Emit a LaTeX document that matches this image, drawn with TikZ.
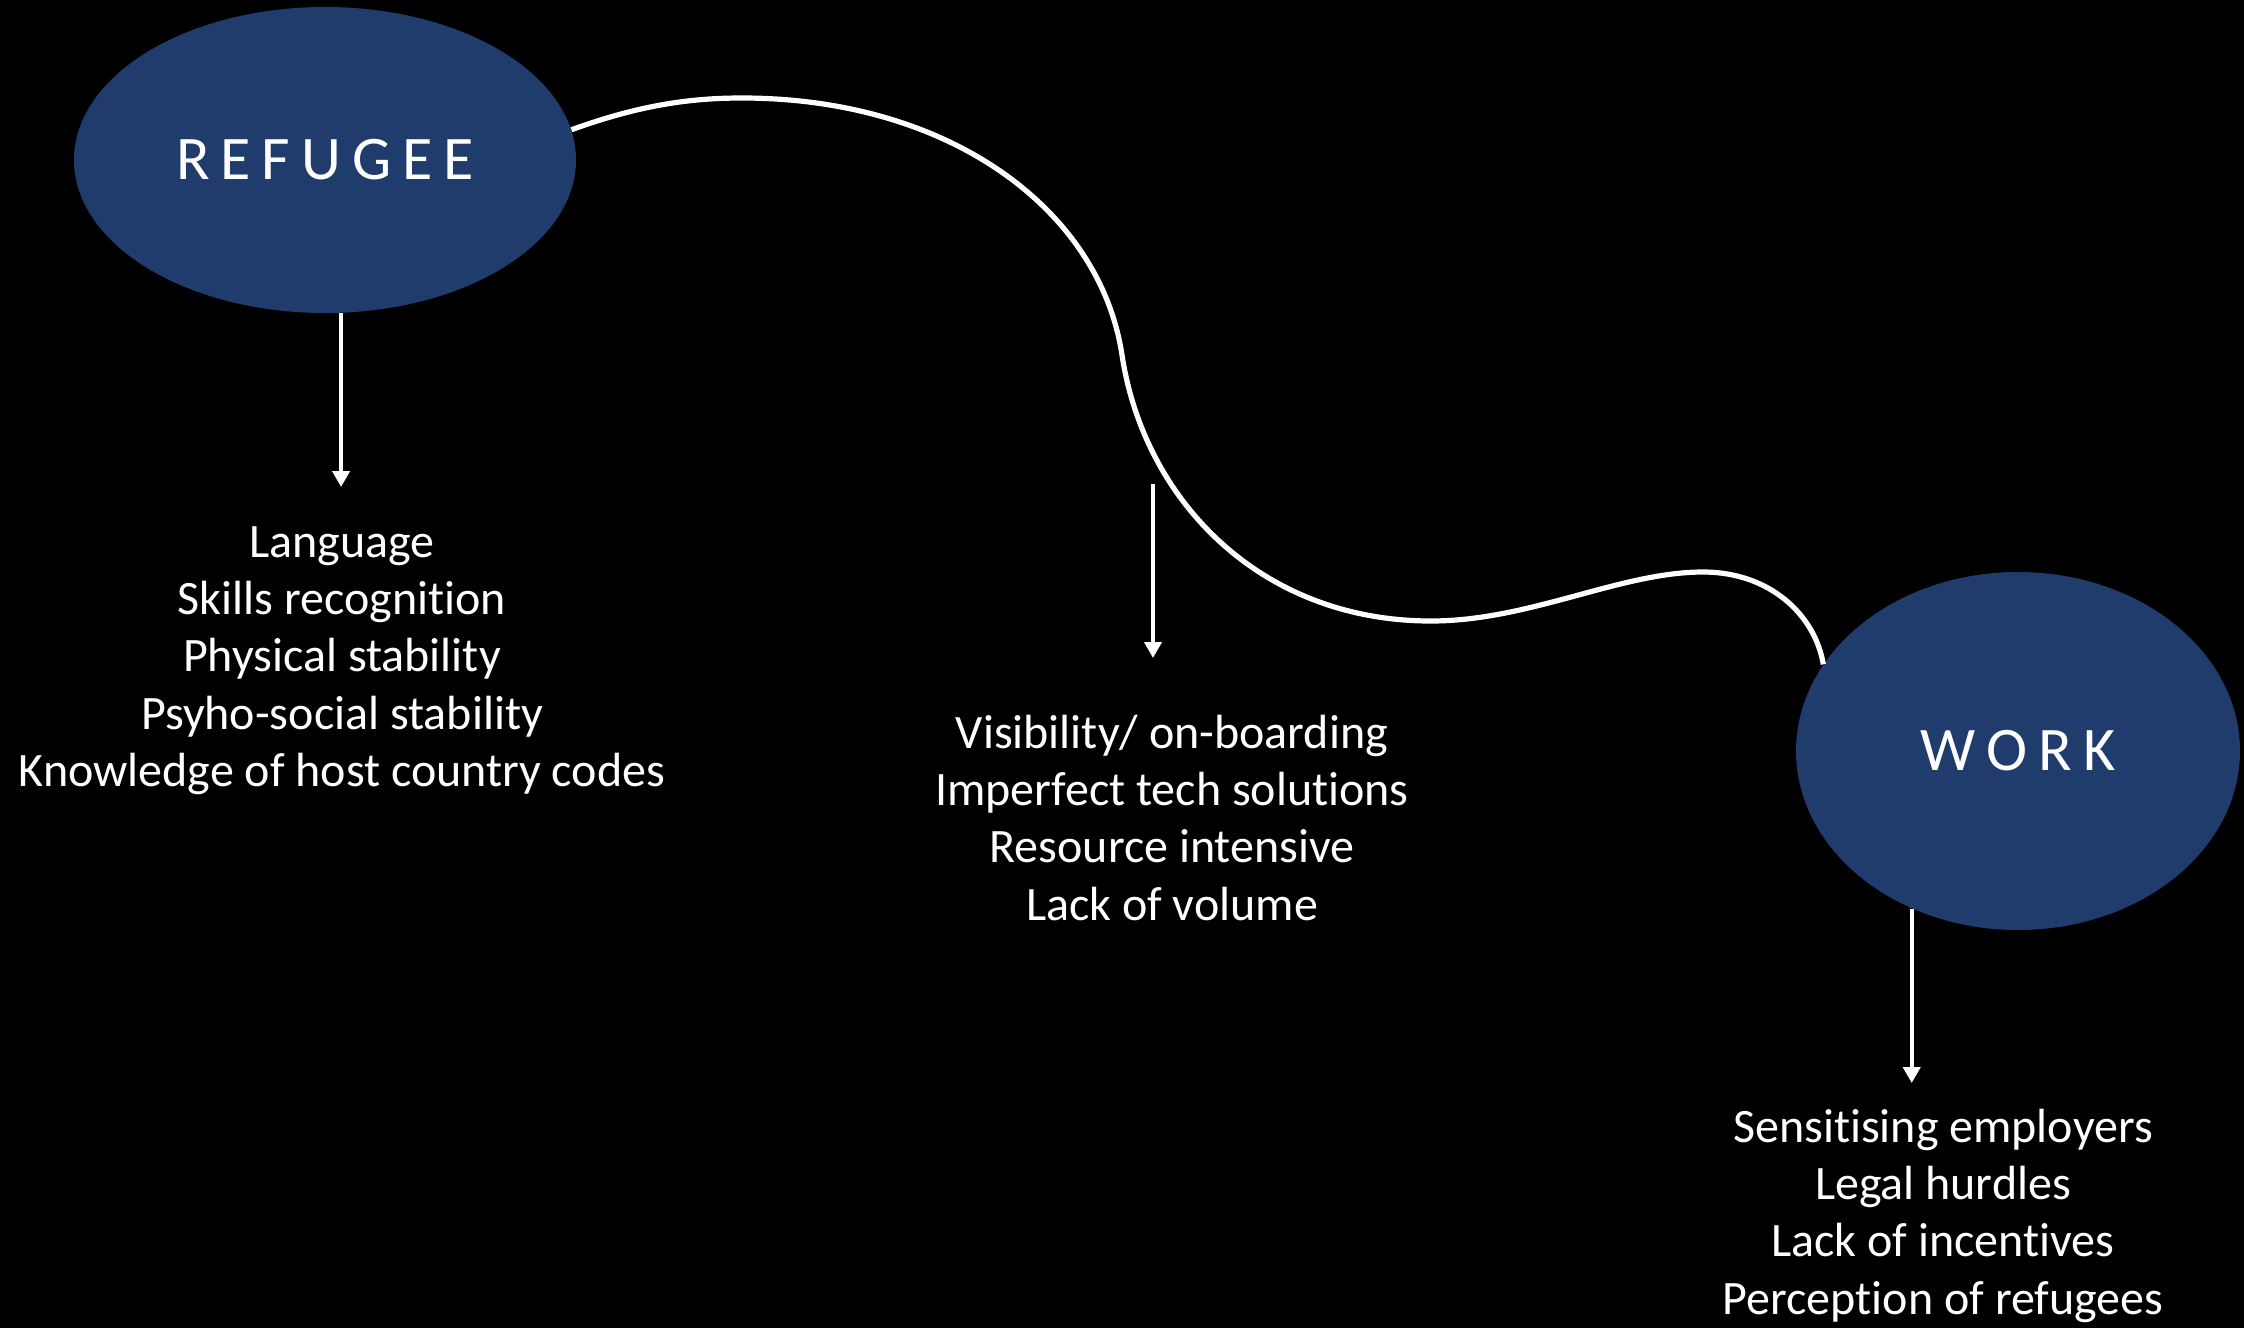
\documentclass[tikz,border=0pt]{standalone}
\usepackage{fontspec}
\setmainfont{Carlito}[Ligatures=NoCommon]
\usetikzlibrary{arrows.meta,shapes.geometric}
\definecolor{navy}{RGB}{31,60,108}
\newcommand\lsp{\kern5.5pt}
\begin{document}
\begin{tikzpicture}[x=0.5pt,y=-0.5pt,
  bubble/.style={ellipse, fill=navy, inner sep=0pt, text=white,
    font=\fontsize{31}{37}\selectfont},
  listtext/.style={anchor=north, inner sep=0pt, align=center, text=white,
    font=\fontsize{24}{28.6}\selectfont},
  arr/.style={white, line width=2pt, -{Triangle[width=8.5pt,length=8pt]}},
  wave/.style={white, line width=2.6pt}]
\fill[black] (0,0) rectangle (2244,1328);
\useasboundingbox (0,0) rectangle (2244,1328);
\node[bubble, minimum width=251pt, minimum height=153pt] (ref) at (325,160)
  {R\lsp E\lsp F\lsp U\lsp G\lsp E\lsp E};
\node[bubble, minimum width=222pt, minimum height=179pt] (work) at (2018,751)
  {W\lsp O\lsp R\lsp K};
\draw[wave] (ref.7) .. controls (640,105) and (690,98) .. (742,98)
  .. controls (950,98) and (1100,210) .. (1122,355)
  .. controls (1144,500) and (1260,621) .. (1431,621)
  .. controls (1530,621) and (1620,572) .. (1703,572)
  .. controls (1770,572) and (1815,615) .. (work.156);
\coordinate (t1) at (342,487);
\coordinate (m1) at (1153,484);
\coordinate (m2) at (1153,658);
\coordinate (t3) at (1912,1083);
\draw[arr] (ref.-84) -- (ref.-84 |- t1);
\draw[arr] (m1) -- (m2);
\draw[arr] (work.236) -- (work.236 |- t3);
\node[listtext] (list1) at (342,517) {\rule{0pt}{20pt}Language\\Skills recognition\\Physical stability\\Psyho-social stability\\Knowledge of host country codes};
\node[listtext] (list2) at (1172,708) {\rule{0pt}{20pt}Visibility/ on-boarding\\Imperfect tech solutions\\Resource intensive\\Lack of volume};
\node[listtext] (list3) at (1943,1102) {\rule{0pt}{20pt}Sensitising employers\\Legal hurdles\\Lack of incentives\\Perception of refugees};
\end{tikzpicture}
\end{document}
